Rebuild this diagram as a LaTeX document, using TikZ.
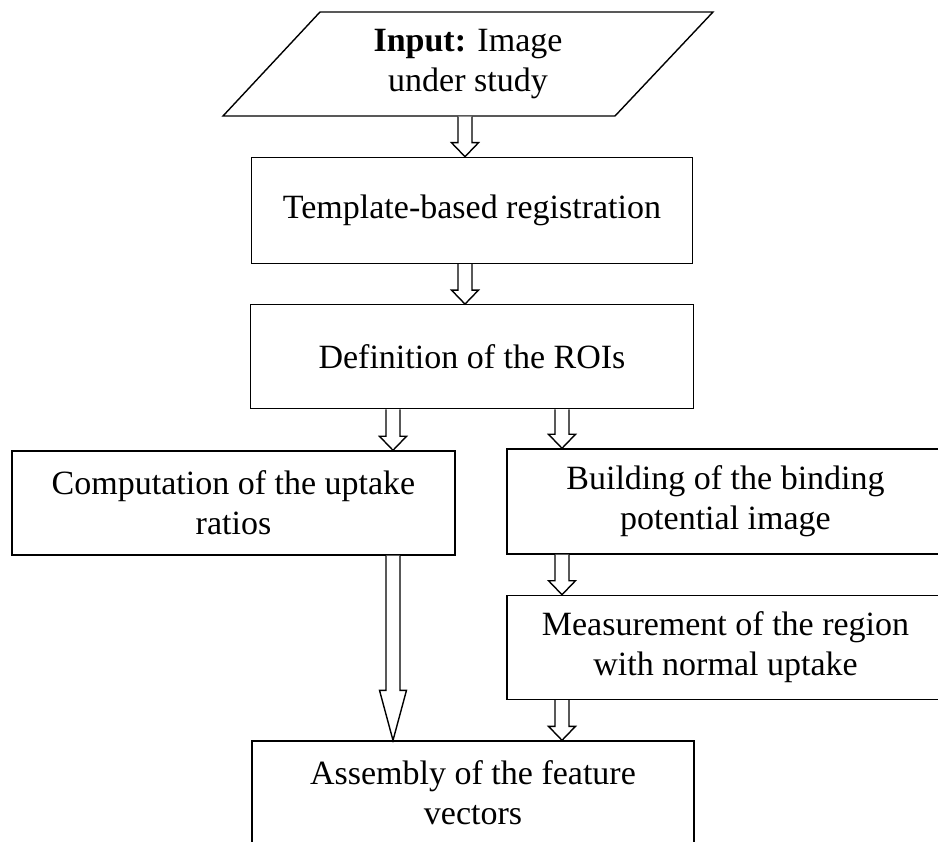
\documentclass[tikz,border=0pt]{standalone}
\usepackage{fontspec}
\setmainfont{Liberation Serif}
\usetikzlibrary{positioning,calc}

% hollow block arrow between two nodes, on the vertical line through #4
\newcommand{\blockarrow}[4][14]{%
  \coordinate (ba-from) at (#2.south -| #4);
  \coordinate (ba-to) at (#3.north -| #4);
  \draw[arrowline] ($(ba-from)+(-7,0)$) -- ($(ba-to)+(-7,-#1)$) -- ($(ba-to)+(-13.5,-#1)$)
    -- (ba-to) -- ($(ba-to)+(13.5,-#1)$) -- ($(ba-to)+(7,-#1)$) -- ($(ba-from)+(7,0)$);
}

\begin{document}
\begin{tikzpicture}[x=1pt,y=-1pt,line width=1.4pt,node distance=40pt,
    box/.style={draw,rectangle,align=center,inner sep=0pt,font=\fontsize{34}{40}\selectfont},
    arrowline/.style={draw,fill=white,line join=miter}]
    \clip (0,0) rectangle (938,842);
    \coordinate (colM) at (465,0);
    \coordinate (colL) at (393,0);
    \coordinate (colR) at (562,0);

    \node[box,draw=none,minimum width=393pt,minimum height=104pt] (input) at (468,64) {\textbf{Input:} Image\\under study};
    \draw ($(input)+(-148,-52)$) -- ($(input)+(245,-52)$) -- ($(input)+(147,52)$) -- ($(input)+(-245,52)$) -- cycle;

    \node[box,minimum width=441pt,minimum height=106pt] (reg) [below=of input,xshift=4pt] {Template-based registration};
    \node[box,minimum width=443pt,minimum height=104pt] (roi) [below=of reg] {Definition of the ROIs};
    \node[box,minimum width=443pt,minimum height=104pt] (comp) at (233.5,503) {Computation of the uptake\\ratios};
    \node[box,minimum width=437pt,minimum height=105pt] (build) at (725.5,501.5) {Building of the binding\\potential image};
    \node[box,minimum width=437pt,minimum height=104pt] (meas) [below=of build] {Measurement of the region\\with normal uptake};
    \node[box,minimum width=442pt,minimum height=104pt] (asm) at (473,793) {Assembly of the feature\\vectors};

    \blockarrow{input}{reg}{colM}
    \blockarrow{reg}{roi}{colM}
    \blockarrow{roi}{comp}{colL}
    \blockarrow{roi}{build}{colR}
    \blockarrow{build}{meas}{colR}
    \blockarrow[50]{comp}{asm}{colL}
    \blockarrow{meas}{asm}{colR}
\end{tikzpicture}
\end{document}
